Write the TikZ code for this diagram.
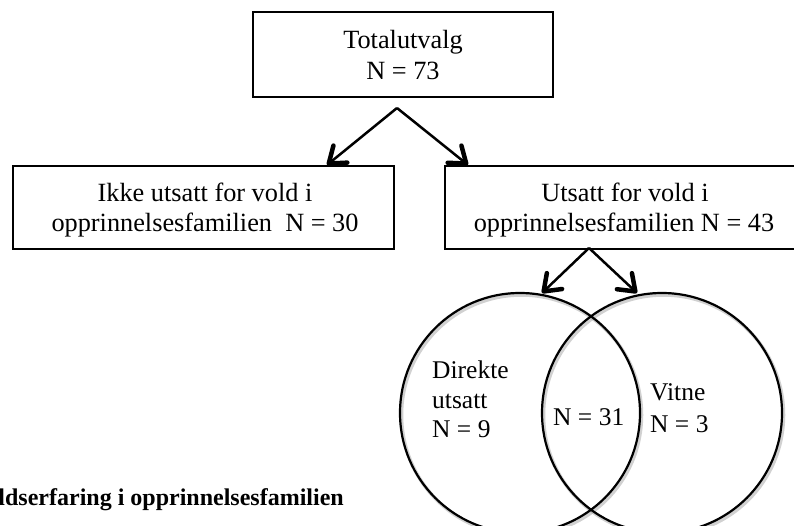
\documentclass[tikz,border=0pt]{standalone}
\usepackage{fontspec}
\setmainfont{Liberation Serif}
\usetikzlibrary{arrows.meta}
\begin{document}
\begin{tikzpicture}[x=1pt,y=-1pt,
  box/.style={draw, line width=1.4pt, inner sep=0pt, rectangle},
  txt/.style={font=\fontsize{26.3}{31}\selectfont, inner sep=0pt, anchor=base},
  ctxt/.style={font=\fontsize{25.5}{30}\selectfont, inner sep=0pt, anchor=base west},
  arr/.style={line width=2.5pt, -{Straight Barb[length=15pt,width=22pt,line width'=4.5pt,round]}},
  venn/.style={circle, draw, line width=2.2pt, minimum size=240pt, inner sep=0pt},
  vshadow/.style={draw=black!40, line width=3.5pt, opacity=0.45}
]
\clip (0,0) rectangle (794,526);
\fill[white] (0,0) rectangle (794,526);

% boxes
\node[box, minimum width=300pt, minimum height=85pt] (top) at (403,54.5) {};
\node[box, minimum width=381pt, minimum height=83pt] (left) at (203.5,207.5) {};
\node[box, minimum width=358pt, minimum height=83pt] (right) at (624,207.5) {};

\node[txt] (t1) at (403,49) {Totalutvalg};
\node[txt] (t2) at (403,80) {N = 73};
\node[txt] (l1) at (205,202) {Ikke utsatt for vold i};
\node[txt] (l2) at (205,232) {opprinnelsesfamilien\ \ N = 30};
\node[txt] (r1) at (625,202) {Utsatt for vold i};
\node[txt] (r2) at (624,232) {opprinnelsesfamilien N = 43};

% arrows
\coordinate (a1) at (397,108);
\coordinate (e1) at (327,165);
\coordinate (e2) at (468,165);
\draw[arr] (a1) -- (e1);
\draw[arr] (a1) -- (e2);

% venn circles
\draw[vshadow] (521.5,415) circle (120);
\draw[vshadow] (663.5,415) circle (120);
\node[venn] (c1) at (520,413) {};
\node[venn] (c2) at (662,413) {};

\coordinate (a2) at (589,248);
\coordinate (e3) at (542,293);
\coordinate (e4) at (637,293);
\draw[arr] (a2) -- (e3);
\draw[arr] (a2) -- (e4);

\node[ctxt] (d1) at (432,378) {Direkte};
\node[ctxt] (d2) at (432,408) {utsatt};
\node[ctxt] (d3) at (432,437) {N = 9};
\node[ctxt] (m1) at (553,425) {N = 31};
\node[ctxt] (v1) at (650,400) {Vitne};
\node[ctxt] (v2) at (650,432) {N = 3};

\node[anchor=base east, inner sep=0pt, font=\bfseries\fontsize{24}{28}\selectfont] (cap) at (344,505) {ldserfaring i opprinnelsesfamilien};
\end{tikzpicture}
\end{document}
